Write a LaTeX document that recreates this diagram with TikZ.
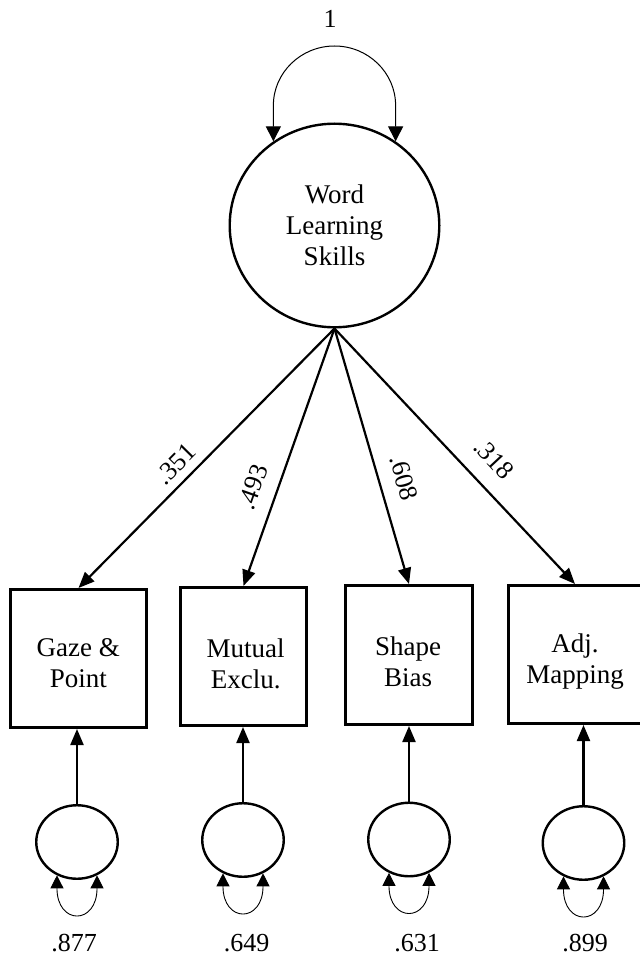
\documentclass[tikz,border=0pt]{standalone}
\usepackage{fontspec}
\setmainfont{Liberation Serif}
\usetikzlibrary{arrows.meta,shapes.geometric,calc}
\begin{document}
\begin{tikzpicture}[x=1pt,y=-1pt,
  latent/.style={draw, ellipse, line width=2.4pt, inner sep=0pt},
  obs/.style={draw, rectangle, line width=2.6pt, inner sep=0pt},
  lbl/.style={font=\fontsize{27}{31}\selectfont, align=center, inner sep=0pt},
  num/.style={font=\fontsize{26}{30}\selectfont, inner sep=0pt},
  load/.style={line width=2.2pt, -{Triangle[length=16pt,width=13pt]}},
  bigloop/.style={line width=1pt, {Triangle[length=15pt,width=15pt]}-{Triangle[length=15pt,width=15pt]}},
  smallloop/.style={line width=0.9pt, {Triangle[length=13pt,width=13pt]}-{Triangle[length=13pt,width=13pt]}}
]
\useasboundingbox (0,0) rectangle (639,957);

% latent factor
\node[latent, lbl, minimum width=209.6pt, minimum height=203.6pt] (W) at (334.5,225.5) {Word\\Learning\\Skills};
\node[num, anchor=base] (one) at (330,28) {1};
\draw[bigloop] (W.126) -- ++(0,-36) .. controls +(0,-32.6) and +(-33.7,0) .. (334.5,46)
      .. controls +(33.7,0) and +(0,-32.6) .. (395.6,105.4) -- (W.54);

% observed boxes
\node[obs, minimum width=136.4pt, minimum height=138.4pt] (b1) at (78.5,658.5) {};
\node[obs, minimum width=126.4pt, minimum height=138.4pt] (b2) at (243.5,656.5) {};
\node[obs, minimum width=127.4pt, minimum height=139.4pt] (b3) at (409,655) {};
\node[obs, minimum width=133.4pt, minimum height=138.4pt] (b4) at (575,654.5) {};
\node[lbl] (t1) at (78.3,663.3) {Gaze \&\\Point};
\node[lbl] (t2) at (245.7,663.4) {Mutual\\Exclu.};
\node[lbl] (t3) at (408,661.3) {Shape\\Bias};
\node[lbl] (t4) at (575,661.2) {Adj.\\Mapping};

% loadings
\draw[load] (W.south) -- (b1.north);
\draw[load] (W.south) -- (b2.north);
\draw[load] (W.south) -- (b3.north);
\draw[load] (W.south) -- (b4.north);
\node[num, rotate=45.4] (l1) at (175.7,464) {.351};
\node[num, rotate=70.7] (l2) at (253,487) {.493};
\node[num, rotate=-74] (l3) at (404,478) {.608};
\node[num, rotate=-47] (l4) at (494,459) {.318};

% error terms
\node[latent, minimum width=81.5pt, minimum height=73.5pt] (e1) at (77,842) {};
\node[latent, minimum width=81.5pt, minimum height=73.5pt] (e2) at (243,840) {};
\node[latent, minimum width=81.5pt, minimum height=73.5pt] (e3) at (409,839.5) {};
\node[latent, minimum width=81.5pt, minimum height=73.5pt] (e4) at (583.5,843) {};
\foreach \i in {1,2,3,4}{
  \draw[load] (e\i.north) -- (e\i.north |- b\i.south);
  \draw[smallloop] (e\i.239) .. controls +(0,50) and +(0,50) .. (e\i.301);
}
\node[num, anchor=base] (v1) at (74,951.5) {.877};
\node[num, anchor=base] (v2) at (246.7,951.5) {.649};
\node[num, anchor=base] (v3) at (417,951.5) {.631};
\node[num, anchor=base] (v4) at (585,951.5) {.899};
\end{tikzpicture}
\end{document}
